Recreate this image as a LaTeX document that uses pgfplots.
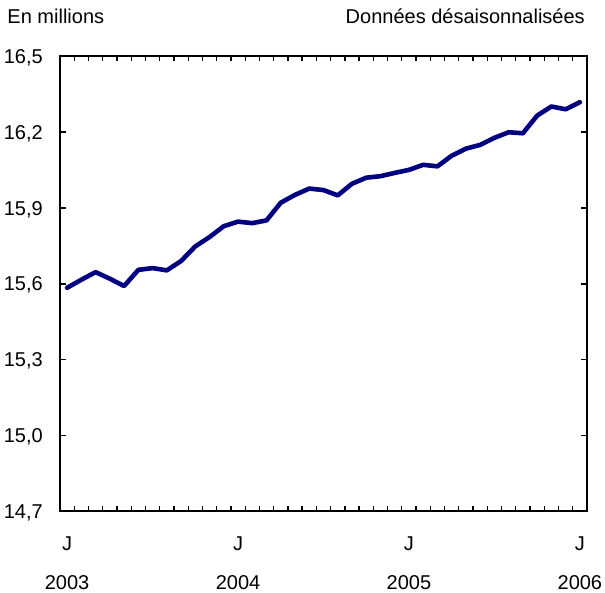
\documentclass[border=0pt]{standalone}
\usepackage{pgfplots}
\pgfplotsset{compat=1.18}
\usepackage{fontspec}
\setmainfont{Liberation Sans}
\definecolor{navyline}{RGB}{0,0,128}
\begin{document}
\fontsize{20pt}{24pt}\selectfont
\begin{tikzpicture}
\useasboundingbox (-60pt,-81pt) rectangle (545pt,511pt);
\begin{axis}[
  at={(0pt,0pt)}, anchor=south west,
  scale only axis,
  width=527pt, height=454.5pt,
  xmin=-0.5, xmax=36.5,
  ymin=14.7, ymax=16.5,
  axis line style={line width=2pt},
  ytick={14.7,15.0,15.3,15.6,15.9,16.2,16.5},
  xtick={0,12,24,36},
  xticklabels={J,J,J,J},
  minor xtick={0.5,1.5,...,35.5},
  tick align=inside,
  major tick length=6pt,
  minor tick length=5pt,
  major x tick style={draw=none},
  minor x tick style={line width=1.3pt, black},
  major y tick style={line width=1.5pt, black},
  extra x ticks={0,12,24,36},
  extra x tick labels={2003,2004,2005,2006},
  extra x tick style={major x tick style={draw=none},
    xticklabel style={yshift=-39pt}},
  xticklabel style={anchor=base, inner sep=0pt, yshift=-39pt},
  yticklabel style={anchor=base east, inner sep=0pt, xshift=-17pt, yshift=-7pt},
  /pgf/number format/.cd, use comma, fixed, fixed zerofill, precision=1, assume math mode=true,
  /pgfplots/.cd,
  ticklabel style={font=\fontsize{20pt}{24pt}\selectfont},
  clip=false,
]
\addplot[navyline, line width=4.6pt, line join=round, line cap=round] coordinates {
(0,15.584) (1,15.616) (2,15.646) (3,15.620) (4,15.591) (5,15.655) (6,15.662)
(7,15.653) (8,15.690) (9,15.748) (10,15.785) (11,15.828) (12,15.846)
(13,15.840) (14,15.851) (15,15.921) (16,15.952) (17,15.977) (18,15.971)
(19,15.950) (20,15.996) (21,16.020) (22,16.026) (23,16.039) (24,16.051)
(25,16.071) (26,16.065) (27,16.107) (28,16.135) (29,16.150) (30,16.178)
(31,16.200) (32,16.196) (33,16.266) (34,16.302) (35,16.291) (36,16.319)
};
\node[anchor=base west, inner sep=0pt] at ([xshift=-52.7pt, yshift=33.2pt]rel axis cs:0,1) {En millions};
\node[anchor=base east, inner sep=0pt] at ([xshift=-2pt, yshift=33.2pt]rel axis cs:1,1) {Données désaisonnalisées};
\end{axis}
\end{tikzpicture}
\end{document}
